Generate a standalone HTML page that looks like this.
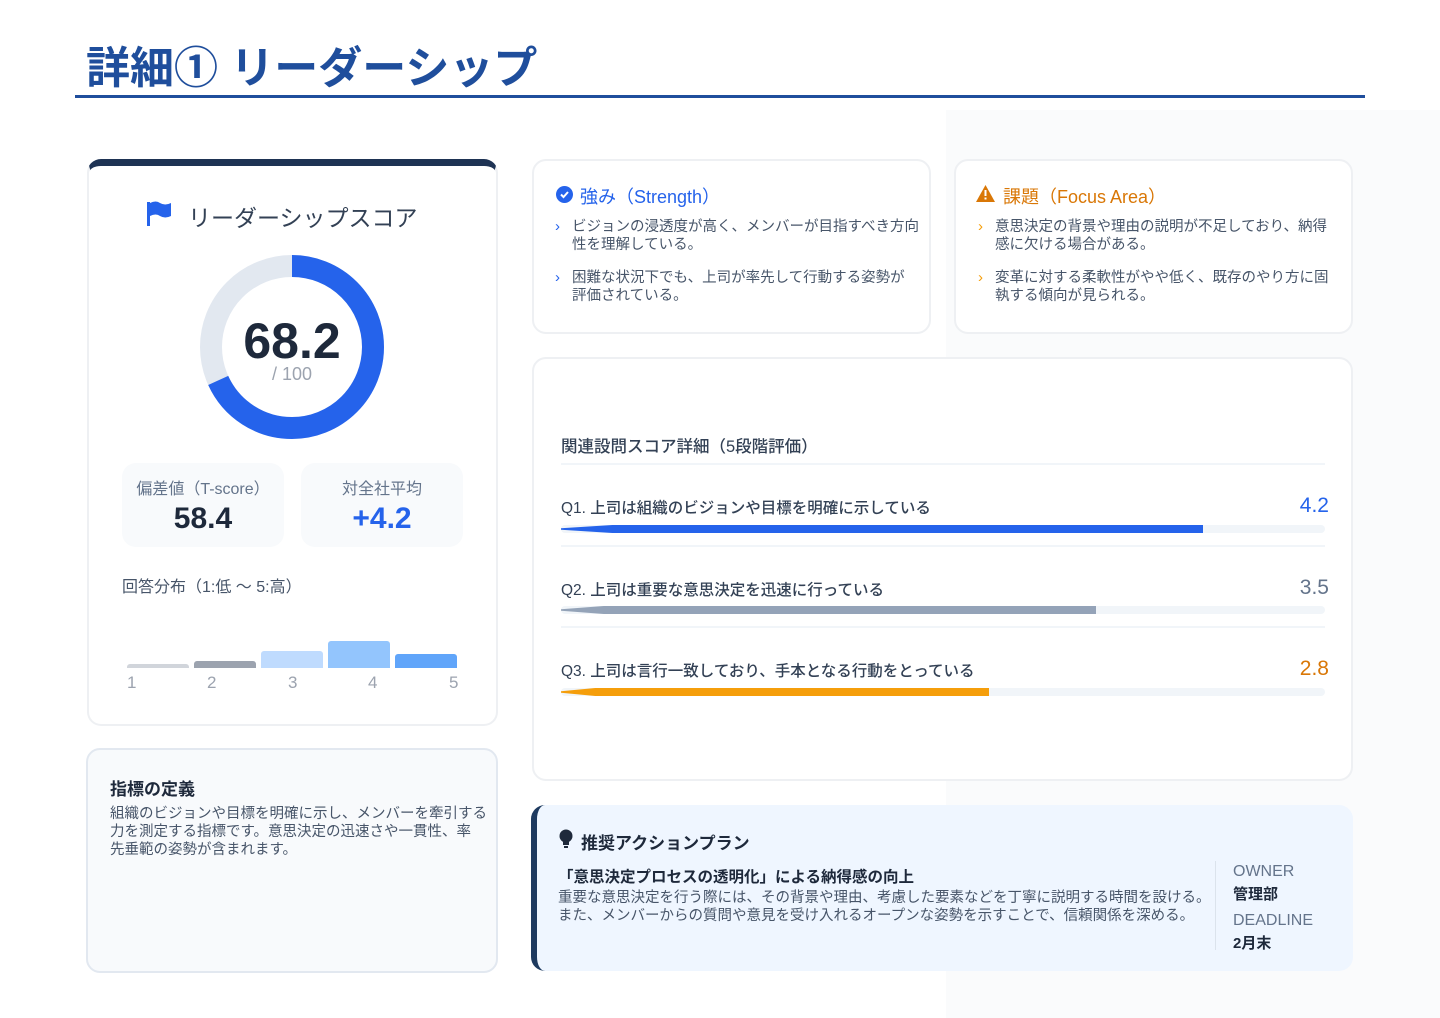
<!DOCTYPE html>
<html><head><meta charset="utf-8"><style>
*{margin:0;padding:0;box-sizing:border-box}
body{width:1440px;height:1018px;background:#fff;font-family:"Liberation Sans","Noto Sans CJK JP",sans-serif;position:relative;overflow:hidden;color:#1e293b}
.a{position:absolute}
.card{position:absolute;background:#fff;border:2px solid #eef0f3;border-radius:14px}
.t{position:absolute;white-space:nowrap}
</style></head><body>
<div class="a" style="left:946px;top:110px;width:494px;height:908px;background:#fafbfc"></div>
<div class="t" style="left:86px;top:32px;font-size:44px;font-weight:bold;color:#1f4e9c">詳細① リーダーシップ</div>
<div class="a" style="left:75px;top:95px;width:1290px;height:3px;background:#1f4e9c"></div>

<div class="card" style="left:87px;top:159px;width:411px;height:567px;border-top:7px solid #1e3354"></div>
<svg class="a" style="left:146px;top:200px" width="26" height="28" viewBox="0 0 26 28"><rect x="1" y="2" width="3" height="24" fill="#2563eb"/><path d="M4 3 Q10 0 14 3 Q19 6 25 3 V16 Q19 19 14 16 Q10 13 4 16Z" fill="#2563eb"/></svg>
<div class="t" style="left:188px;top:199px;font-size:23px;color:#334155">リーダーシップスコア</div>
<svg class="a" style="left:199px;top:254px" width="186" height="186"><circle cx="93" cy="93" r="81" fill="none" stroke="#e2e8f0" stroke-width="22"/><circle cx="93" cy="93" r="81" fill="none" stroke="#2563eb" stroke-width="22" stroke-dasharray="347.1 1000" transform="rotate(-90 93 93)"/></svg>
<div class="t" style="left:192px;top:312px;width:200px;text-align:center;font-size:50px;font-weight:600;color:#1e293b">68.2</div>
<div class="t" style="left:192px;top:364px;width:200px;text-align:center;font-size:18px;color:#9ca3af">/ 100</div>
<div class="a" style="left:122px;top:463px;width:162px;height:84px;background:#f8fafc;border-radius:14px"></div>
<div class="a" style="left:301px;top:463px;width:162px;height:84px;background:#f8fafc;border-radius:14px"></div>
<div class="t" style="left:122px;top:475px;width:162px;text-align:center;font-size:16px;color:#64748b">偏差値（T-score）</div>
<div class="t" style="left:122px;top:502px;width:162px;text-align:center;font-size:30px;font-weight:600;color:#1e293b">58.4</div>
<div class="t" style="left:301px;top:475px;width:162px;text-align:center;font-size:16px;color:#64748b">対全社平均</div>
<div class="t" style="left:301px;top:502px;width:162px;text-align:center;font-size:30px;font-weight:600;color:#2563eb">+4.2</div>
<div class="t" style="left:122px;top:573px;font-size:16px;color:#475569">回答分布（1:低 ～ 5:高）</div>
<div class="a" style="left:127px;top:664px;width:62px;height:4px;background:#d1d5db;border-radius:3px 3px 0 0"></div>
<div class="a" style="left:194px;top:661px;width:62px;height:7px;background:#9ca3af;border-radius:3px 3px 0 0"></div>
<div class="a" style="left:261px;top:651px;width:62px;height:17px;background:#bfdbfe;border-radius:3px 3px 0 0"></div>
<div class="a" style="left:328px;top:641px;width:62px;height:27px;background:#93c5fd;border-radius:3px 3px 0 0"></div>
<div class="a" style="left:395px;top:654px;width:62px;height:14px;background:#60a5fa;border-radius:3px 3px 0 0"></div>
<div class="t" style="left:127px;top:673px;font-size:17px;color:#9ca3af">1</div>
<div class="t" style="left:207px;top:673px;font-size:17px;color:#9ca3af">2</div>
<div class="t" style="left:288px;top:673px;font-size:17px;color:#9ca3af">3</div>
<div class="t" style="left:368px;top:673px;font-size:17px;color:#9ca3af">4</div>
<div class="t" style="left:449px;top:673px;font-size:17px;color:#9ca3af">5</div>

<div class="card" style="left:86px;top:748px;width:412px;height:225px;background:#f8fafc;border-color:#e2e8f0"></div>
<div class="t" style="left:110px;top:775px;font-size:17px;font-weight:bold;color:#1e293b">指標の定義</div>
<div class="t" style="left:110px;top:805px;font-size:14.5px;line-height:18px;color:#475569">組織のビジョンや目標を明確に示し、メンバーを牽引する<br>力を測定する指標です。意思決定の迅速さや一貫性、率<br>先垂範の姿勢が含まれます。</div>

<div class="card" style="left:532px;top:159px;width:399px;height:175px"></div>
<svg class="a" style="left:556px;top:186px" width="17" height="17"><circle cx="8.5" cy="8.5" r="8.5" fill="#2563eb"/><path d="M5 8.5 L7.5 11 L12 6" stroke="#fff" stroke-width="2" fill="none"/></svg>
<div class="t" style="left:580px;top:183px;font-size:18px;color:#2563eb">強み（Strength）</div>
<div class="t" style="left:555px;top:218px;font-size:15px;color:#2563eb">›</div>
<div class="t" style="left:572px;top:218px;font-size:14.5px;line-height:18px;color:#475569">ビジョンの浸透度が高く、メンバーが目指すべき方向<br>性を理解している。</div>
<div class="t" style="left:555px;top:269px;font-size:15px;color:#2563eb">›</div>
<div class="t" style="left:572px;top:269px;font-size:14.5px;line-height:18px;color:#475569">困難な状況下でも、上司が率先して行動する姿勢が<br>評価されている。</div>

<div class="card" style="left:954px;top:159px;width:399px;height:175px"></div>
<svg class="a" style="left:976px;top:185px" width="19" height="17"><path d="M9.5 0 L19 17 H0Z" fill="#d97706"/><rect x="8.5" y="5" width="2" height="6" fill="#fff"/><rect x="8.5" y="12.5" width="2" height="2" fill="#fff"/></svg>
<div class="t" style="left:1003px;top:183px;font-size:18px;color:#d97706">課題（Focus Area）</div>
<div class="t" style="left:978px;top:218px;font-size:15px;color:#f59e0b">›</div>
<div class="t" style="left:995px;top:218px;font-size:14.5px;line-height:18px;color:#475569">意思決定の背景や理由の説明が不足しており、納得<br>感に欠ける場合がある。</div>
<div class="t" style="left:978px;top:269px;font-size:15px;color:#f59e0b">›</div>
<div class="t" style="left:995px;top:269px;font-size:14.5px;line-height:18px;color:#475569">変革に対する柔軟性がやや低く、既存のやり方に固<br>執する傾向が見られる。</div>

<div class="card" style="left:532px;top:357px;width:821px;height:424px"></div>
<div class="t" style="left:561px;top:433px;font-size:16.5px;font-weight:500;color:#334155">関連設問スコア詳細（5段階評価）</div>
<div class="a" style="left:561px;top:463px;width:764px;height:2px;background:#f1f5f9"></div>
<div class="t" style="left:561px;top:496px;font-size:15.5px;font-weight:500;color:#334155">Q1. 上司は組織のビジョンや目標を明確に示している</div>
<div class="t" style="left:1270px;top:494px;width:59px;text-align:right;font-size:21px;color:#2563eb">4.2</div>
<div class="a" style="left:561px;top:525px;width:764px;height:8px;background:#f1f5f9;border-radius:4px"></div>
<div class="a" style="left:561px;top:525px;width:642px;height:8px;background:#2563eb;clip-path:polygon(0 40%,8% 0,100% 0,100% 100%,8% 100%,0 60%)"></div>
<div class="a" style="left:561px;top:545px;width:764px;height:2px;background:#f1f5f9"></div>
<div class="t" style="left:561px;top:578px;font-size:15.5px;font-weight:500;color:#334155">Q2. 上司は重要な意思決定を迅速に行っている</div>
<div class="t" style="left:1270px;top:576px;width:59px;text-align:right;font-size:21px;color:#64748b">3.5</div>
<div class="a" style="left:561px;top:606px;width:764px;height:8px;background:#f1f5f9;border-radius:4px"></div>
<div class="a" style="left:561px;top:606px;width:535px;height:8px;background:#94a3b8;clip-path:polygon(0 40%,8% 0,100% 0,100% 100%,8% 100%,0 60%)"></div>
<div class="a" style="left:561px;top:626px;width:764px;height:2px;background:#f1f5f9"></div>
<div class="t" style="left:561px;top:659px;font-size:15.5px;font-weight:500;color:#334155">Q3. 上司は言行一致しており、手本となる行動をとっている</div>
<div class="t" style="left:1270px;top:657px;width:59px;text-align:right;font-size:21px;color:#d97706">2.8</div>
<div class="a" style="left:561px;top:688px;width:764px;height:8px;background:#f1f5f9;border-radius:4px"></div>
<div class="a" style="left:561px;top:688px;width:428px;height:8px;background:#f59e0b;clip-path:polygon(0 40%,8% 0,100% 0,100% 100%,8% 100%,0 60%)"></div>

<div class="a" style="left:531px;top:805px;width:822px;height:166px;background:#eff6ff;border-radius:14px;border-left:6px solid #1e3a5f"></div>
<svg class="a" style="left:559px;top:829px" width="14" height="20"><circle cx="7" cy="7" r="6.5" fill="#1e293b"/><rect x="4" y="12" width="6" height="4" fill="#1e293b"/><rect x="5" y="17" width="4" height="2" fill="#1e293b"/></svg>
<div class="t" style="left:581px;top:829px;font-size:17px;font-weight:bold;color:#1e293b">推奨アクションプラン</div>
<div class="t" style="left:558px;top:865px;font-size:15.5px;font-weight:bold;color:#1e293b">「意思決定プロセスの透明化」による納得感の向上</div>
<div class="t" style="left:558px;top:889px;font-size:14.5px;line-height:18px;color:#475569">重要な意思決定を行う際には、その背景や理由、考慮した要素などを丁寧に説明する時間を設ける。<br>また、メンバーからの質問や意見を受け入れるオープンな姿勢を示すことで、信頼関係を深める。</div>
<div class="a" style="left:1215px;top:861px;width:1px;height:89px;background:#dbe3ec"></div>
<div class="t" style="left:1233px;top:863px;font-size:16px;color:#64748b">OWNER</div>
<div class="t" style="left:1233px;top:883px;font-size:15px;font-weight:bold;color:#1e293b">管理部</div>
<div class="t" style="left:1233px;top:912px;font-size:16px;color:#64748b">DEADLINE</div>
<div class="t" style="left:1233px;top:932px;font-size:15px;font-weight:bold;color:#1e293b">2月末</div>
</body></html>
